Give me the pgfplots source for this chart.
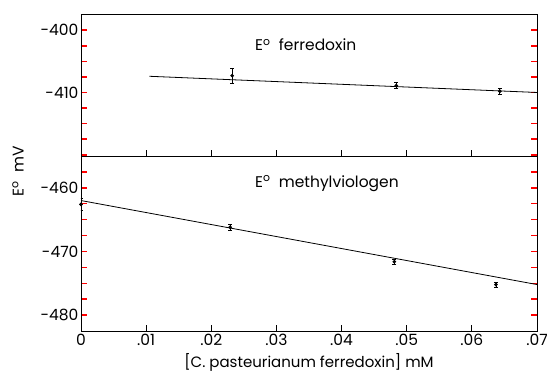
\documentclass[border=0pt]{standalone}
\usepackage{fontspec}
\setmainfont{Poppins}
\usepackage{pgfplots}
\pgfplotsset{compat=1.18}
% x values are given in units of 0.01 mM
\begin{document}
\begin{tikzpicture}
\useasboundingbox (-81pt,-49pt) rectangle (466pt,331pt);
\pgfplotsset{
  common/.style={
    scale only axis, width=456pt,
    xmin=0, xmax=7,
    scaled x ticks=false, scaled y ticks=false,
    axis line style={line width=0.8pt},
    xtick style={line width=0.9pt, black},
    ytick style={line width=1.5pt, red},
    tick align=inside,
    major tick length=6pt,
    ymajorticks=true,
    xtick pos=left, ytick pos=both,
    tick label style={font=\fontsize{15.5}{16}\selectfont},
    yticklabel style={xshift=1pt},
    every axis plot/.append style={line width=0.8pt, black},
    error bars/error bar style={line width=0.8pt},
    error bars/error mark options={rotate=90, mark size=2pt, line width=0.8pt},
  }
}
\begin{axis}[common, name=bot, at={(0pt,0pt)}, anchor=south west, height=175pt,
  ymin=-482.5, ymax=-455,
  xtick={0,1,2,3,4,5,6,7},
  xticklabels={0,.01,.02,.03,.04,.05,.06,.07},
  ytick={-457.5,-460,-462.5,-465,-467.5,-470,-472.5,-475,-477.5,-480},
  yticklabels={,-460,,,,-470,,,,-480},
  xlabel={[C. pasteurianum ferredoxin] mM},
  xlabel style={font=\fontsize{15}{16}\selectfont, yshift=-1pt},
]
\addplot[no marks] coordinates {(0,-462.0) (7,-475.2)};
\addplot[only marks, mark=*, mark size=1.4pt,
  error bars/.cd, y dir=both, y explicit]
  coordinates {
   (0.0,-462.6) +- (0,0.9)
   (2.29,-466.2) +- (0,0.5)
   (4.81,-471.6) +- (0,0.4)
   (6.37,-475.2) +- (0,0.4)
  };
\node[anchor=west, font=\fontsize{15.5}{16}\selectfont] at (axis cs:2.62,-459.3) {E\textsuperscript{o}\ \ methylviologen};
\end{axis}
\begin{axis}[common, name=top, at={(0pt,175pt)}, anchor=south west, height=142pt,
  ymin=-420.2, ymax=-397.4,
  xtick={0,1,2,3,4,5,6,7},
  xticklabels={},
  ytick={-397.5,-400,-402.5,-405,-407.5,-410,-412.5,-415,-417.5,-420},
  yticklabels={,-400,,,,-410,,,,},
]
\addplot[no marks] coordinates {(1.05,-407.4) (7,-410.0)};
\addplot[only marks, mark=*, mark size=1.4pt,
  error bars/.cd, y dir=both, y explicit]
  coordinates {
   (2.32,-407.3) +- (0,1.2)
   (4.84,-408.9) +- (0,0.45)
   (6.43,-409.8) +- (0,0.5)
  };
\node[anchor=west, font=\fontsize{15.5}{16}\selectfont] at (axis cs:2.62,-402.3) {E\textsuperscript{o}\ \ ferredoxin};
\end{axis}
\node[rotate=90, font=\fontsize{15.5}{16}\selectfont] at (-63pt,160pt) {E\textsuperscript{o}\ \ mV};
\end{tikzpicture}
\end{document}
